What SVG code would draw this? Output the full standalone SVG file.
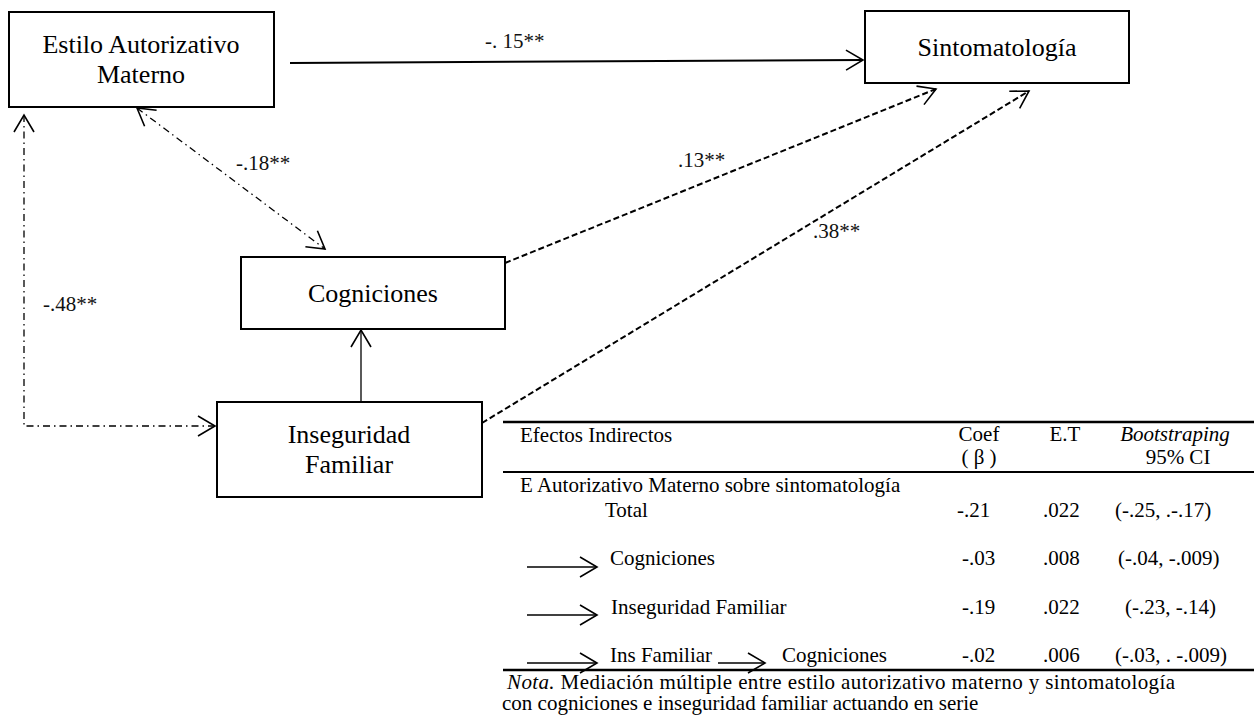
<svg xmlns="http://www.w3.org/2000/svg" width="1254" height="721" viewBox="0 0 1254 721" font-family="'Liberation Serif', 'DejaVu Serif', 'Times New Roman', serif">
  <style>
    text { font-family: 'Liberation Serif', 'DejaVu Serif', 'Times New Roman', serif; }
    .box { fill: #ffffff; stroke: #000000; stroke-width: 2; }
    .node { font-size: 26px; fill: #000000; text-anchor: middle; }
    .lbl { font-size: 21px; fill: #111111; }
    .tbl { font-size: 21px; fill: #000000; }
    .mid { text-anchor: middle; }
    .it { font-style: italic; }
    .solid { fill: none; stroke: #000000; stroke-width: 2; }
    .thin { fill: none; stroke: #000000; stroke-width: 1.3; }
    .dash { fill: none; stroke: #000000; stroke-width: 2; stroke-dasharray: 6 3; }
    .dashdot { fill: none; stroke: #000000; stroke-width: 1.3; stroke-dasharray: 7 4 1.5 4; }
    .rule { stroke: #000000; stroke-width: 2.5; }
  </style>
  <defs>
    <marker id="vee" markerUnits="userSpaceOnUse" markerWidth="22" markerHeight="26" viewBox="-19 -13 22 26" refX="0" refY="0" orient="auto-start-reverse">
      <path d="M-17,-10 L0,0 L-17,10" fill="none" stroke="#000000" stroke-width="1.6" stroke-dasharray="none"/>
    </marker>
  </defs>

  <!-- connectors -->
  <g id="connectors">
    <line class="solid" x1="290" y1="63" x2="863" y2="60" marker-end="url(#vee)"/>
    <line class="dashdot" x1="137" y1="108" x2="325" y2="249" marker-start="url(#vee)" marker-end="url(#vee)"/>
    <path class="dashdot" d="M24,115 L24,426 L215,426" marker-start="url(#vee)" marker-end="url(#vee)"/>
    <line class="thin" x1="361" y1="402" x2="361" y2="330" marker-end="url(#vee)"/>
    <line class="dash" x1="505" y1="263" x2="936" y2="89" marker-end="url(#vee)"/>
    <line class="dash" x1="482" y1="423" x2="1029" y2="91" marker-end="url(#vee)"/>

    <text class="lbl" x="485" y="48">-. 15**</text>
    <text class="lbl" x="236" y="170">-.18**</text>
    <text class="lbl" x="43" y="311">-.48**</text>
    <text class="lbl" x="678" y="167">.13**</text>
    <text class="lbl" x="813" y="238">.38**</text>
  </g>

  <!-- nodes -->
  <g id="estilo">
    <rect class="box" x="9" y="12" width="265" height="95"/>
    <text class="node" x="141" y="53">Estilo Autorizativo</text>
    <text class="node" x="141" y="83">Materno</text>
  </g>
  <g id="sintomatologia">
    <rect class="box" x="865" y="11" width="264" height="72"/>
    <text class="node" x="997" y="56">Sintomatología</text>
  </g>
  <g id="cogniciones">
    <rect class="box" x="241" y="257" width="264" height="72"/>
    <text class="node" x="373" y="302">Cogniciones</text>
  </g>
  <g id="inseguridad">
    <rect class="box" x="217" y="402" width="265" height="95"/>
    <text class="node" x="349" y="443">Inseguridad</text>
    <text class="node" x="349" y="473">Familiar</text>
  </g>

  <!-- table of indirect effects -->
  <g id="tabla">
    <line class="rule" x1="503" y1="422" x2="1254" y2="422"/>
    <line class="rule" x1="503" y1="472" x2="1254" y2="472" style="stroke-width:2"/>
    <line class="rule" x1="503" y1="670" x2="1254" y2="670"/>

    <text class="tbl" x="520" y="442">Efectos Indirectos</text>
    <text class="tbl mid" x="979" y="441">Coef</text>
    <text class="tbl mid" x="979" y="464">( β )</text>
    <text class="tbl mid" x="1065" y="441">E.T</text>
    <text class="tbl mid it" x="1175" y="441">Bootstraping</text>
    <text class="tbl mid" x="1178" y="464">95% CI</text>

    <text class="tbl" x="520" y="492">E Autorizativo Materno sobre sintomatología</text>
    <text class="tbl" x="605" y="517">Total</text>
    <text class="tbl" x="957" y="517">-.21</text>
    <text class="tbl" x="1043" y="517">.022</text>
    <text class="tbl" x="1115" y="517">(-.25, .-.17)</text>

    <line class="thin" x1="527" y1="567" x2="597" y2="567" marker-end="url(#vee)"/>
    <text class="tbl" x="610" y="565">Cogniciones</text>
    <text class="tbl" x="962" y="565">-.03</text>
    <text class="tbl" x="1043" y="565">.008</text>
    <text class="tbl" x="1118" y="565">(-.04, -.009)</text>

    <line class="thin" x1="527" y1="615" x2="597" y2="615" marker-end="url(#vee)"/>
    <text class="tbl" x="611" y="614">Inseguridad Familiar</text>
    <text class="tbl" x="962" y="614">-.19</text>
    <text class="tbl" x="1043" y="614">.022</text>
    <text class="tbl" x="1125" y="614">(-.23, -.14)</text>

    <line class="thin" x1="527" y1="663" x2="597" y2="663" marker-end="url(#vee)"/>
    <text class="tbl" x="610" y="662">Ins Familiar</text>
    <line class="thin" x1="718" y1="663" x2="765" y2="663" marker-end="url(#vee)"/>
    <text class="tbl" x="782" y="662">Cogniciones</text>
    <text class="tbl" x="962" y="662">-.02</text>
    <text class="tbl" x="1043" y="662">.006</text>
    <text class="tbl" x="1115" y="662">(-.03, . -.009)</text>

    <text class="tbl" x="507" y="689" textLength="668" lengthAdjust="spacing"><tspan class="it">Nota.</tspan> Mediación múltiple entre estilo autorizativo materno y sintomatología</text>
    <text class="tbl" x="502" y="710">con cogniciones e inseguridad familiar actuando en serie</text>
  </g>
</svg>
